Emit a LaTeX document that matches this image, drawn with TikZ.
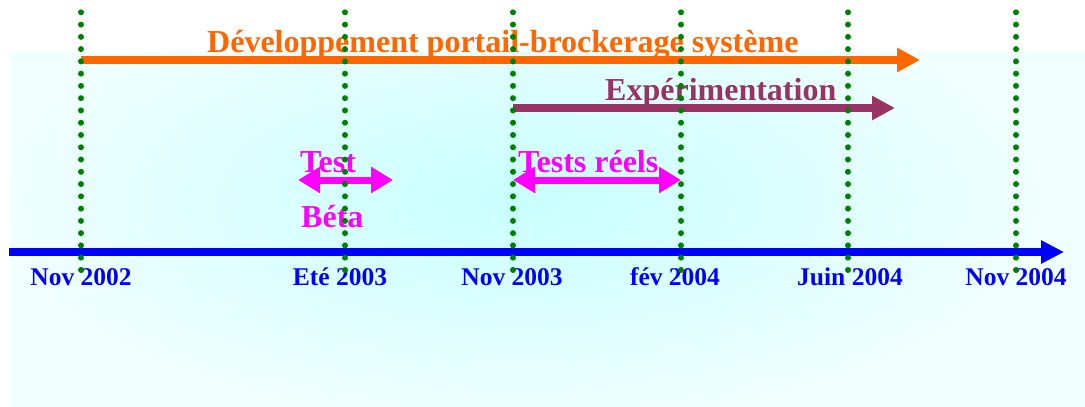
\documentclass[tikz,border=0pt]{standalone}
\usepackage{fontspec}
\setmainfont{Liberation Serif}
\usetikzlibrary{arrows.meta}
\definecolor{bgout}{RGB}{240,255,255}
\definecolor{bgin}{RGB}{200,255,255}
\definecolor{orangeA}{RGB}{255,102,0}
\definecolor{purpleA}{RGB}{153,51,102}
\definecolor{magA}{RGB}{255,0,255}
\definecolor{blueA}{RGB}{0,0,255}
\definecolor{greenA}{RGB}{0,128,0}
\tikzset{
  dotline/.style={greenA, line width=6pt, line cap=round, dash pattern=on 0pt off 12.27pt},
  bigtxt/.style={font=\fontsize{32}{36}\selectfont\bfseries, inner sep=0pt, anchor=base west},
  datetxt/.style={blueA, font=\fontsize{25.5}{28}\selectfont\bfseries, inner sep=0pt, anchor=base},
  onearrow/.style={line width=8pt, -{Triangle[length=23pt,width=23pt]}},
  twoarrow/.style={magA, line width=7pt, {Triangle[length=22pt,width=25pt]}-{Triangle[length=22pt,width=25pt]}}
}
\begin{document}
\begin{tikzpicture}[x=1pt,y=-1pt]
\useasboundingbox (0,0) rectangle (1085,407);
% background
\begin{scope}
\clip (10,52) rectangle (1085,407);
\fill[bgout] (10,52) rectangle (1085,407);
\shade[inner color=bgin, outer color=bgout] (520,200) ellipse (520 and 220);
\end{scope}
% coordinates of the dotted lines
\coordinate (atop) at (81,12.3);   \coordinate (abot) at (81,270.4);
\coordinate (btop) at (345,12.3);  \coordinate (bbot) at (345,270.4);
\coordinate (ctop) at (513,12.3);  \coordinate (cbot) at (513,270.4);
\coordinate (dtop) at (681,12.3);  \coordinate (dbot) at (681,270.4);
\coordinate (etop) at (848,12.3);  \coordinate (ebot) at (848,270.4);
\coordinate (ftop) at (1016,12.3); \coordinate (fbot) at (1016,270.4);
\coordinate (axS) at (9,252);
\coordinate (axE) at (1064,252);
\coordinate (orS) at (81,60);
\coordinate (orE) at (920,60);
\coordinate (puS) at (513,108);
\coordinate (puE) at (895,108);
\coordinate (tbS) at (298,180);
\coordinate (tbE) at (393,180);
\coordinate (trS) at (513,180);
\coordinate (trE) at (681,180);
% arrows
\draw[onearrow, orangeA] (orS) -- (orE);
\draw[onearrow, purpleA] (puS) -- (puE);
\draw[twoarrow] (tbS) -- (tbE);
\draw[twoarrow] (trS) -- (trE);
\draw[onearrow, blueA, -{Triangle[length=23pt,width=22pt]}] (axS) -- (axE);
% texts
\node[bigtxt, orangeA] (t1) at (207,52) {Développement portail-brockerage système};
\node[bigtxt, purpleA] (t2) at (605,100) {Expérimentation};
\node[bigtxt, magA] (t3) at (300,172) {Test};
\node[bigtxt, magA] (t4) at (301,227) {Béta};
\node[bigtxt, magA] (t5) at (518,172) {Tests réels};
\node[datetxt] (d1) at (81,285) {Nov 2002};
\node[datetxt] (d2) at (340,285) {Eté 2003};
\node[datetxt] (d3) at (512,285) {Nov 2003};
\node[datetxt] (d4) at (675,285) {fév 2004};
\node[datetxt] (d5) at (850,285) {Juin 2004};
\node[datetxt] (d6) at (1016,285) {Nov 2004};
% dotted lines
\draw[dotline] (atop) -- (abot);
\draw[dotline] (btop) -- (bbot);
\draw[dotline] (ctop) -- (cbot);
\draw[dotline] (dtop) -- (dbot);
\draw[dotline] (etop) -- (ebot);
\draw[dotline] (ftop) -- (fbot);
\end{tikzpicture}
\end{document}
